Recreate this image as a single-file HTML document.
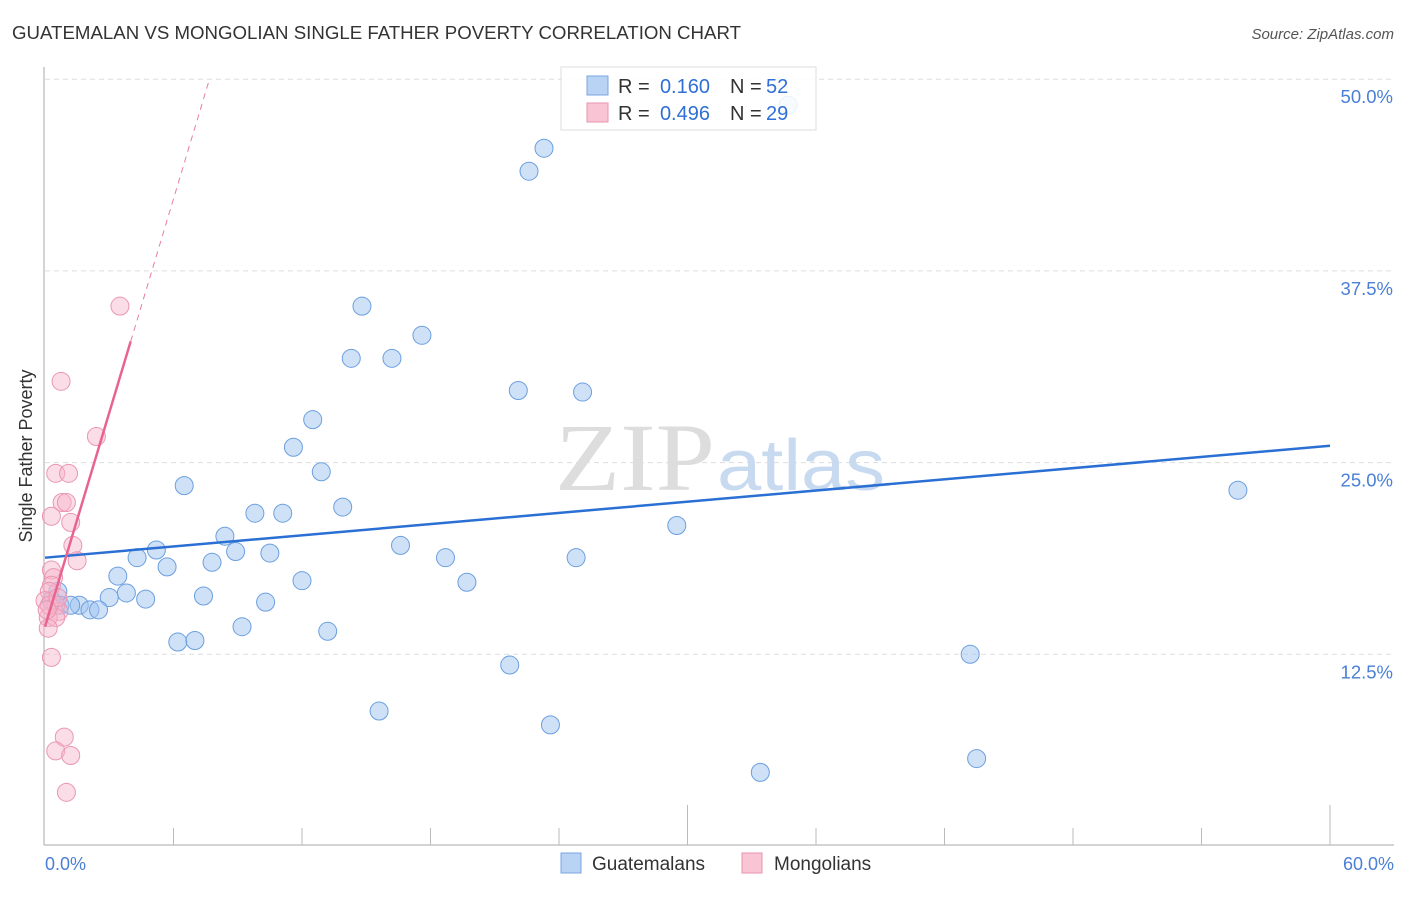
<!DOCTYPE html>
<html><head><meta charset="utf-8"><style>
body{margin:0;background:#fff;font-family:"Liberation Sans",sans-serif}
</style></head><body>
<svg width="1406" height="892" xmlns="http://www.w3.org/2000/svg">
<text x="12" y="39" font-size="18" fill="#333" textLength="729" lengthAdjust="spacingAndGlyphs">GUATEMALAN VS MONGOLIAN SINGLE FATHER POVERTY CORRELATION CHART</text>
<text x="1394" y="39" font-size="15" fill="#555" font-style="italic" text-anchor="end">Source: ZipAtlas.com</text>
<text x="32" y="456" font-size="18" fill="#333" text-anchor="middle" transform="rotate(-90 32 456)">Single Father Poverty</text>
<g id="grid"></g>
<text x="555" y="490" font-size="96" fill="#ddd" textLength="160" lengthAdjust="spacingAndGlyphs" font-family="Liberation Serif,serif">ZIP</text>
<text x="717" y="490" font-size="72" fill="#c8daf0" textLength="168" lengthAdjust="spacingAndGlyphs">atlas</text>
<g id="pts"></g>
<g id="lines"></g>
<g>
<rect x="561" y="67" width="255" height="63" fill="#fff" fill-opacity="0.85" stroke="#ddd"/>
<rect x="587" y="76" width="21" height="19" fill="#b9d3f5" stroke="#7aa6e0"/>
<rect x="587" y="103" width="21" height="19" fill="#f9c4d4" stroke="#e893ae"/>
<text x="618" y="93" font-size="20" fill="#333">R =</text>
<text x="710" y="93" font-size="20" fill="#2f6fd6" text-anchor="end">0.160</text>
<text x="730" y="93" font-size="20" fill="#333">N =</text>
<text x="766" y="93" font-size="20" fill="#2f6fd6">52</text>
<text x="618" y="120" font-size="20" fill="#333">R =</text>
<text x="710" y="120" font-size="20" fill="#2f6fd6" text-anchor="end">0.496</text>
<text x="730" y="120" font-size="20" fill="#333">N =</text>
<text x="766" y="120" font-size="20" fill="#2f6fd6">29</text>
</g>
<text x="45" y="870" font-size="18" fill="#4a7fd6">0.0%</text>
<text x="1394" y="870" font-size="18" fill="#4a7fd6" text-anchor="end">60.0%</text>
<g>
<rect x="561" y="853" width="20" height="20" fill="#b9d3f5" stroke="#7aa6e0"/>
<text x="592" y="870" font-size="19" fill="#333">Guatemalans</text>
<rect x="742" y="853" width="20" height="20" fill="#f9c4d4" stroke="#e893ae"/>
<text x="774" y="870" font-size="19" fill="#333">Mongolians</text>
</g>
</svg>
<script>
const yTicks=[12.5,25,37.5,50];
const xTickCount=10;
const blueX=[34.7,23.3,22.6,14.8,17.6,14.3,16.2,22.1,25.1,12.5,11.6,12.9,6.5,55.7,13.9,9.8,11.1,29.5,8.4,16.6,5.2,8.9,10.5,4.3,18.7,24.8,7.8,5.7,3.4,12.0,19.7,3.8,7.4,3.0,4.7,10.3,0.6,0.7,1.6,1.2,2.1,2.5,9.2,13.2,6.2,7.0,43.2,21.7,15.6,23.6,43.5,33.4,0.3];
const blueY=[48.3,45.5,44.0,35.2,33.3,31.8,31.8,29.7,29.6,27.8,26.0,24.4,23.5,23.2,22.1,21.7,21.7,20.9,20.2,19.6,19.3,19.2,19.1,18.8,18.8,18.8,18.5,18.2,17.6,17.3,17.2,16.5,16.3,16.2,16.1,15.9,16.6,15.7,15.7,15.7,15.4,15.4,14.3,14.0,13.3,13.4,12.5,11.8,8.8,7.9,5.7,4.8,16.0];
const pinkX=[3.5,0.75,2.4,0.5,1.1,0.8,1.0,0.3,1.2,1.3,1.5,0.3,0.4,0.3,0.2,0.5,0.65,0.15,0.5,0.15,0.3,0.9,0.5,1.2,1.0,0,0.2,0.6,0.1];
const pinkY=[35.2,30.3,26.7,24.3,24.3,22.4,22.4,21.5,21.1,19.6,18.6,18.0,17.5,17.0,16.6,15.7,15.3,14.9,14.9,14.2,12.3,7.1,6.2,5.9,3.5,16.0,15.7,16.2,15.4];
const blueTrend=[18.8,26.1];
const pinkTrend=[14.3,4.65];
const X=v=>45+v/60*1285, Y=v=>846-v/12.5*191.7;
const NS="http://www.w3.org/2000/svg";
function mk(t,a,p){const e=document.createElementNS(NS,t);for(const k in a)e.setAttribute(k,a[k]);p.appendChild(e);return e;}
const g=document.getElementById('grid');
yTicks.forEach(t=>{
 const l=mk('line',{x1:45,x2:1394,y1:Y(t),y2:Y(t),stroke:'#ddd','stroke-dasharray':'5,4'},g);
 
 
 const tx=mk('text',{x:1393,y:Y(t)+24,'font-size':18.5,fill:'#4a7fd6','text-anchor':'end'},g);
 tx.textContent=t.toFixed(1)+'%';
 
 
});
const ax=mk('line',{x1:44,x2:44,y1:67,y2:845,stroke:'#aaa'},g);


const bx=mk('line',{x1:44,x2:1394,y1:845,y2:845,stroke:'#aaa'},g);


for(let i=1;i<=xTickCount;i++){
 const tk=mk('line',{x1:X(i*6),x2:X(i*6),y1:(i==5||i==10)?805:828,y2:845,stroke:'#bbb'},g);
 
 
}
const p=document.getElementById('pts');
blueX.forEach((x,i)=>{
 const c=mk('circle',{cx:X(x),cy:Y(blueY[i]),r:9,fill:'rgba(160,196,240,0.5)',stroke:'#6b9fe0','stroke-width':1},p);
 
 
});
pinkX.forEach((x,i)=>{
 const c=mk('circle',{cx:X(x),cy:Y(pinkY[i]),r:9,fill:'rgba(246,180,202,0.45)',stroke:'#ea97b2','stroke-width':1},p);
 
 
});
const L=document.getElementById('lines');
const bl=mk('line',{x1:X(0),y1:Y(blueTrend[0]),x2:X(60),y2:Y(blueTrend[1]),stroke:'#2a6fd4','stroke-width':2.5},L);


const xe=(50-pinkTrend[0])/pinkTrend[1];
const pd=mk('line',{x1:X(4),y1:Y(pinkTrend[0]+4*pinkTrend[1]),x2:X(xe),y2:Y(50),stroke:'#e87ea0','stroke-width':1,'stroke-dasharray':'6,5'},L);


const pl=mk('line',{x1:X(0),y1:Y(pinkTrend[0]),x2:X(4),y2:Y(pinkTrend[0]+4*pinkTrend[1]),stroke:'#e8648f','stroke-width':2.5},L);


</script>
</body></html>
